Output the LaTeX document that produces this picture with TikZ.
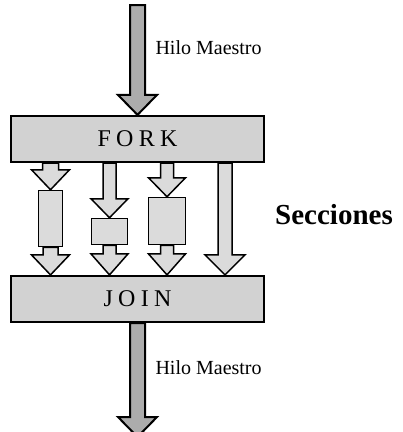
\documentclass[tikz,border=0pt]{standalone}
\usepackage{fontspec}
\setmainfont{Liberation Serif}
\newfontfamily\spacedfont[LetterSpace=22]{Liberation Serif}
\colorlet{colorBox}{gray!35}
\colorlet{colorSec}{gray!28}
\colorlet{colorMain}{gray!65}
\usetikzlibrary{calc}
\usetikzlibrary{positioning}
\tikzset{
   every path/.style={>=stealth},
   bloque/.style={draw,line width=2.2pt,fill=colorBox,inner sep=0pt,
      minimum width=253pt,minimum height=46pt,
      font=\spacedfont\fontsize{24}{26}\selectfont},
   seccion/.style={draw,line width=1.5pt,fill=colorSec,inner sep=0pt},
   hilo/.style={draw,line width=2pt,fill=colorMain,line join=miter},
   flechasec/.style={draw,line width=1.5pt,fill=colorSec,line join=miter},
   etiqueta/.style={anchor=base west,font=\fontsize{20}{22}\selectfont},
}
% block arrow: [style]{from}{tip}{shaft half width}{head half width}{head length}
\newcommand{\flecha}[6][]{%
  \path[#1] let \p1=(#2), \p2=(#3) in
    (\x1-#4pt,\y1) -- (\x1-#4pt,\y2+#6pt) -- (\x1-#5pt,\y2+#6pt) -- (\x1,\y2)
    -- (\x1+#5pt,\y2+#6pt) -- (\x1+#4pt,\y2+#6pt) -- (\x1+#4pt,\y1) -- cycle;}

\begin{document}
\begin{tikzpicture}[x=1pt,y=-1pt]
  \useasboundingbox (0,0) rectangle (403,432);

  \node[bloque] (fork) at (137.5,139) {FORK};
  \node[bloque] (join) at (137.5,299) {JOIN};

  % sections between fork and join
  \node[seccion,minimum width=24pt,minimum height=56pt] (s1) at (50.5,218.5) {};
  \node[seccion,minimum width=36pt,minimum height=26pt] (s2) at (109.5,231.5) {};
  \node[seccion,minimum width=37pt,minimum height=47pt] (s3) at (167,221) {};
  \coordinate (c4) at (225,0);

  \coordinate (inicio) at (137.5,5);
  \coordinate (fin) at (137.5,437);

  % master thread
  \flecha[hilo]{inicio}{fork.north}{7.5}{19.5}{20}
  \flecha[hilo]{join.south}{fin}{7.5}{19.5}{20}

  % forked arrows
  \flecha[flechasec]{s1.north |- fork.south}{s1.north}{8}{19}{20}
  \flecha[flechasec]{s1.south}{s1.south |- join.north}{7.5}{19}{20}
  \flecha[flechasec]{s2.north |- fork.south}{s2.north}{6.5}{18.5}{19}
  \flecha[flechasec]{s2.south}{s2.south |- join.north}{6.5}{18.5}{21}
  \flecha[flechasec]{s3.north |- fork.south}{s3.north}{6.5}{18.5}{19}
  \flecha[flechasec]{s3.south}{s3.south |- join.north}{6.5}{18.5}{21}
  \flecha[flechasec]{c4 |- fork.south}{c4 |- join.north}{7}{20}{20}

  \node[etiqueta] (hilo1) at (152,54) {Hilo Maestro};
  \node[etiqueta] (hilo2) at (152,374) {Hilo Maestro};
  \node[font=\bfseries\fontsize{29}{32}\selectfont] (secc) at (334,215) {Secciones};
\end{tikzpicture}
\end{document}
